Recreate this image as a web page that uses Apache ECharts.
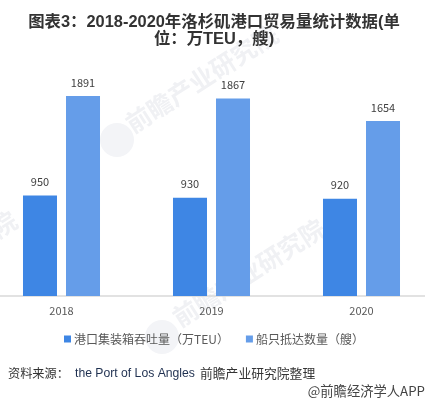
<!DOCTYPE html>
<html>
<head>
<meta charset="utf-8">
<style>html,body{margin:0;padding:0;background:#fff}#main{width:425px;height:404px}</style>
<script src="https://cdn.jsdelivr.net/npm/echarts@6/dist/echarts.min.js"></script>
</head>
<body>
<div id="main"></div>
<script>
var categories = ['2018', '2019', '2020'];
var teu = [950, 930, 920];
var ships = [1891, 1867, 1654];
var seriesNames = ['港口集装箱吞吐量（万TEU）', '船只抵达数量（艘）'];
var titleText = '图表3：2018-2020年洛杉矶港口贸易量统计数据(单\n位：万TEU，艘)';

var cjk = '"Noto Sans CJK SC", sans-serif';

var myChart = echarts.init(document.getElementById('main'));

// faint watermark, sits behind the bars
function mark(x, y) {
    return {
        type: 'text', x: x, y: y, rotation: 0.57, z: 0, silent: true,
        style: { text: '前瞻产业研究院', font: 'bold 25px ' + cjk, fill: '#f0f1f4', verticalAlign: 'middle' }
    };
}
function logo(x, y) {
    return {
        type: 'circle', z: 0, silent: true,
        shape: { cx: x, cy: y, r: 17 },
        style: { fill: '#f3f4f7' }
    };
}

var option = {
    animation: false,
    title: {
        text: titleText,
        left: 209, top: 9, textAlign: 'center',
        textStyle: { fontSize: 16.4, fontWeight: 'bold', lineHeight: 17, color: '#333', fontFamily: '"Liberation Sans", ' + cjk }
    },
    grid: { left: -13.5, width: 450, top: 84.5, height: 211.5, outerBoundsMode: 'none' },
    legend: {
        left: 59, top: 328, itemWidth: 7, itemHeight: 7, itemGap: 17, icon: 'rect',
        textStyle: { fontSize: 12, color: '#595959', fontFamily: cjk, padding: [0, 0, 0, -2] }
    },
    xAxis: {
        type: 'category',
        data: categories,
        axisTick: { show: false },
        axisLine: { lineStyle: { color: '#d9d9d9', width: 1.5 } },
        axisLabel: { fontSize: 11, color: '#595959', margin: 9, fontFamily: cjk }
    },
    yAxis: { type: 'value', min: 0, max: 2000, show: false },
    series: [
        {
            name: seriesNames[0], type: 'bar', data: teu, barWidth: 34, barGap: '26.5%',
            itemStyle: { color: '#3e86e4' },
            label: { show: true, position: 'top', distance: 8, fontSize: 11, color: '#404040', fontFamily: cjk }
        },
        {
            name: seriesNames[1], type: 'bar', data: ships, barWidth: 34,
            itemStyle: { color: '#659de9' },
            label: { show: true, position: 'top', distance: 8, fontSize: 11, color: '#404040', fontFamily: cjk }
        }
    ],
    graphic: [
        mark(128, 126),
        mark(175, 320),
        mark(-133, 312),
        logo(117, 140),
        logo(162, 337),
        {
            type: 'text', x: 8, y: 367,
            style: { text: '资料来源：', font: '12.2px ' + cjk, fill: '#333' }
        },
        {
            type: 'text', x: 75, y: 368,
            style: { text: 'the Port of Los Angles', font: '12.2px "Liberation Sans"', fill: '#1f3050' }
        },
        {
            type: 'text', x: 200, y: 367,
            style: { text: '前瞻产业研究院整理', font: '12.8px ' + cjk, fill: '#333' }
        },
        {
            type: 'text', x: 425, y: 384,
            style: { text: '@前瞻经济学人APP', font: '13.3px ' + cjk, fill: '#444', textAlign: 'right' }
        }
    ]
};

option && myChart.setOption(option);
</script>
</body>
</html>
